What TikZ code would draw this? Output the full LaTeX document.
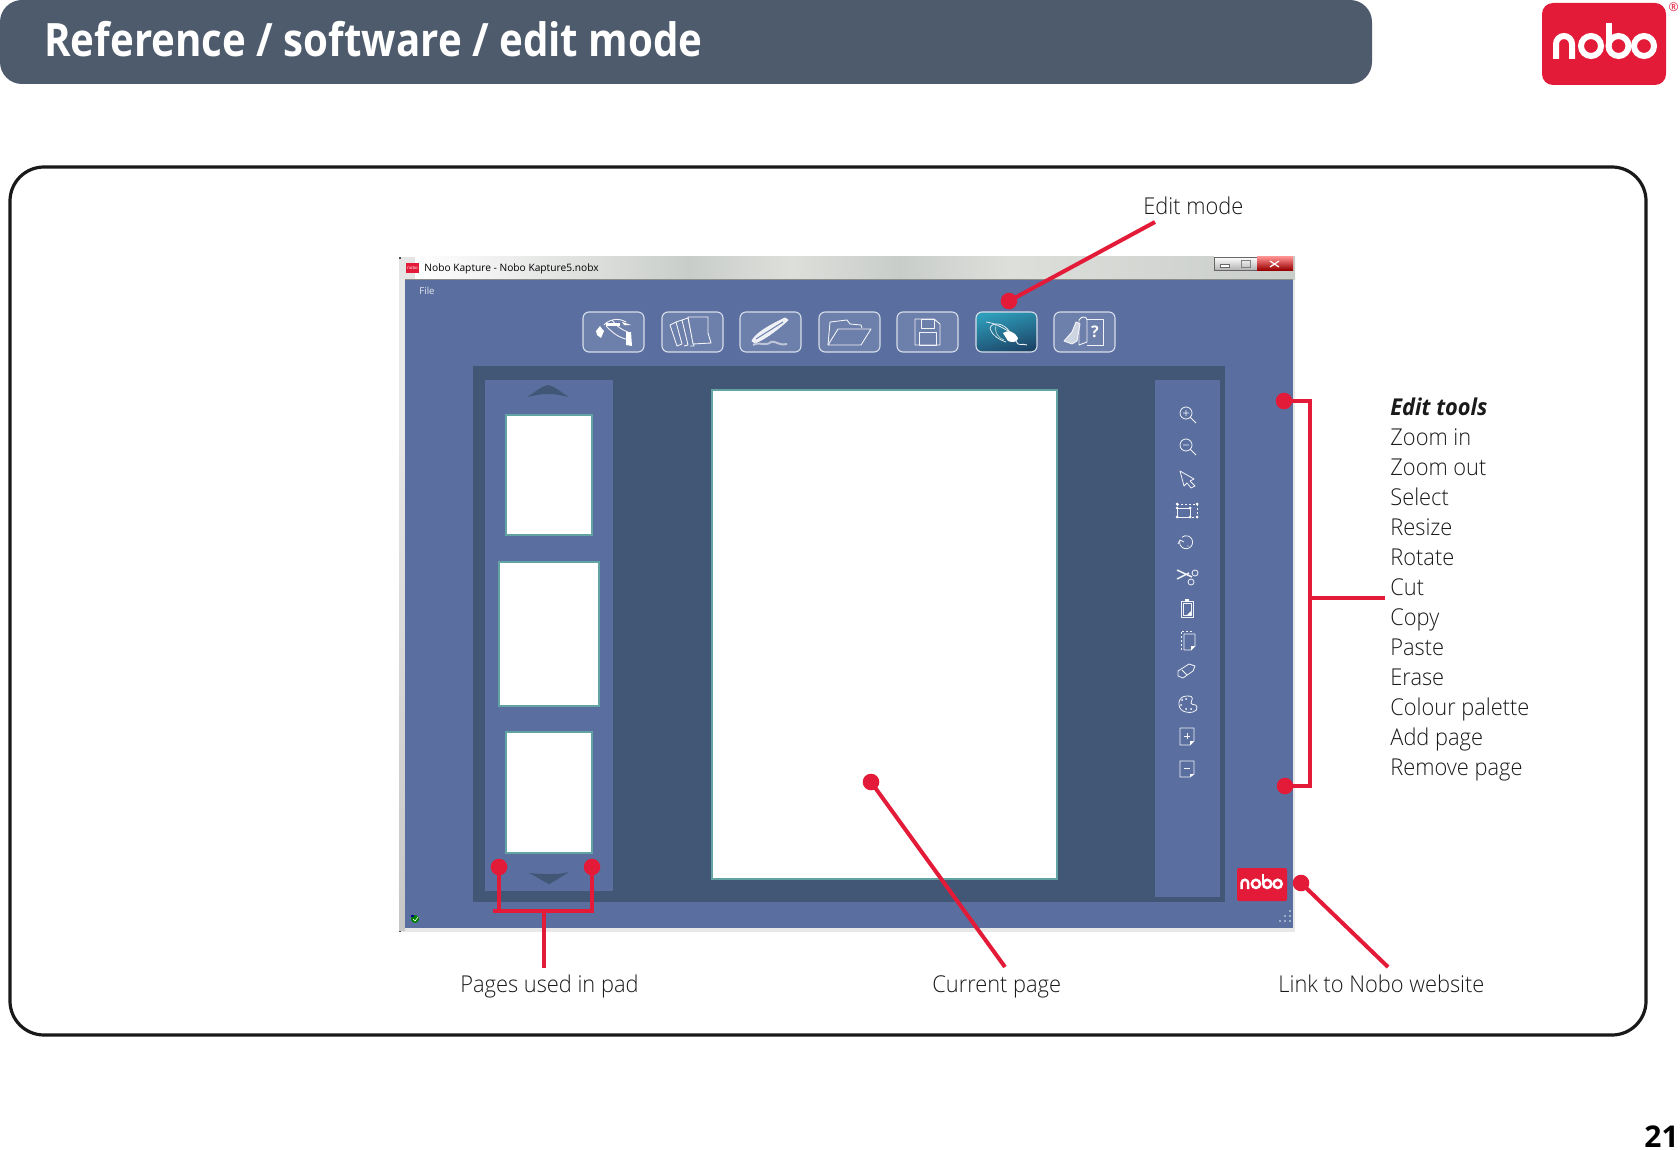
\documentclass[tikz,border=0pt]{standalone}
\usepackage{fontspec}
\setmainfont{Open Sans}
\newfontfamily\lightf{Open Sans Light}[FakeStretch=0.94]
\newfontfamily\boldf{Open Sans}[FakeStretch=0.94]
\newfontfamily\titlef{Open Sans}[FakeStretch=0.875]
\usetikzlibrary{calc}
\definecolor{nred}{HTML}{E31B38}
\definecolor{bar}{HTML}{4E5B6C}
\definecolor{wblue}{HTML}{5A6F9F}
\definecolor{wdark}{HTML}{425776}
\definecolor{teal}{HTML}{62A3A3}
\definecolor{btnf}{HTML}{6D7FAB}
\definecolor{btnl}{HTML}{D8DEEA}
\definecolor{txt}{HTML}{1A1A1A}
\definecolor{tbarA}{HTML}{C9CDC9}
\definecolor{tbarB}{HTML}{DDDFDB}
\definecolor{gbtnA}{HTML}{2E9DBA}
\definecolor{gbtnB}{HTML}{1C4568}
\tikzset{x=0.5pt,y=-0.5pt,
  conn/.style={draw=nred,line width=2pt,line cap=butt,line join=miter},
  dot/.style={circle,fill=nred,inner sep=0pt,minimum size=8.3pt},
  lab/.style={inner sep=0pt,anchor=base west,text=txt,font=\fontsize{11.6}{14}\selectfont},
  btn/.style={draw=btnl,fill=btnf,line width=.55pt,rounded corners=3pt},
  thumb/.style={draw=teal,fill=white,line width=1.2pt},
  ico/.style={draw=white!92!wblue,line width=.45pt,line join=round},
  wl/.style={draw=white!92!wblue,line width=.4pt,line join=round}}
% nobo lettering in header-logo coordinates
\newcommand{\nobomark}{%
  \draw (1556,59) -- (1556,44) arc[start angle=180,end angle=360,radius=8] -- (1572,59);
  \draw (1591,46) circle[radius=10];
  \draw (1618.5,46) circle[radius=10];
  \draw (1608.5,23) -- (1608.5,46);
  \draw (1644,46) circle[radius=10];
}
\begin{document}
\begin{tikzpicture}
\useasboundingbox (0,0) rectangle (1680,1150);
\fill[white] (0,0) rectangle (1680,1150);
% header
\fill[bar,rounded corners=11pt] (0,0) rectangle (1372,84);
\node[inner sep=0pt,anchor=base west,text=white] (title) at (44,57) {\fontsize{23}{28}\selectfont\titlef\bfseries Reference / software / edit mode};
% logo
\fill[nred,rounded corners=5.5pt] (1542,3) rectangle (1666,85);
\begin{scope}[white,line width=3pt]
\nobomark
\end{scope}
\node[inner sep=0pt,text=nred,anchor=north east] (reg) at (1679,2) {\fontsize{6}{6}\selectfont ®};
% big frame
\draw[black!90,line width=1.6pt,rounded corners=17pt] (10,167) rectangle (1646,1035);
% window
\fill[black!9] (399,278) rectangle (1295,932);
\shade[left color=white,right color=tbarA] (415,257) rectangle (690,279);
\fill[black!10] (399,257) rectangle (415,279);
\shade[left color=tbarA,right color=tbarB] (690,257) rectangle (790,279);
\shade[left color=tbarB,right color=tbarA] (790,257) rectangle (900,279);
\shade[left color=tbarA,right color=tbarB] (900,257) rectangle (1010,279);
\shade[left color=tbarB,right color=tbarA] (1010,257) rectangle (1295,279);
\fill[black!70] (399,257) rectangle (401,259);
\fill[black!70] (399,930) rectangle (401,932);
\shade[top color=black!10,bottom color=black!22] (399,440) rectangle (405,930);
\fill[wblue] (405,279) rectangle (1293,928);
\draw[black!45,line width=.3pt] (405,279) -- (1293,279);
\fill[nred] (406,263) rectangle (419,273);
\node[inner sep=0pt,text=white] (wlogo) at (412.5,268) {\fontsize{2.2}{3}\selectfont nobo};
\node[inner sep=0pt,text=black,anchor=base west] (wtitle) at (424,271) {\fontsize{5.1}{6}\selectfont Nobo Kapture - Nobo Kapture5.nobx};
\node[inner sep=0pt,text=white!85!wblue,anchor=base west] (file) at (419,294) {\fontsize{4.8}{6}\selectfont File};
% window buttons
\shade[top color=white,bottom color=black!30,draw=black!60,line width=.3pt] (1214,257) rectangle (1257,270);
\shade[top color=red!45!white,bottom color=red!60!black] (1257,257) rectangle (1293,270);
\draw[white,line width=.6pt] (1270,261) -- (1279,267) (1270,267) -- (1279,261);
\draw[black!60,fill=white,line width=.3pt] (1220,264) rectangle (1229,267);
\draw[black!50,line width=.3pt] (1241,260) rectangle (1250,267);
% panels
\fill[wdark] (473,366) rectangle (1225,902);
\fill[wblue] (485,380) rectangle (613,891);
\fill[wblue] (1155,380) rectangle (1220,897);
% arrows
\fill[wdark] (527,397) .. controls (536,392) and (541,386) .. (548,385) .. controls (555,386) and (560,392) .. (569,397) .. controls (560,395) and (555,394) .. (548,394) .. controls (541,394) and (536,395) .. (527,397) -- cycle;
\fill[wdark] (529,873) .. controls (538,874) and (541,874) .. (549,874) .. controls (557,874) and (560,874) .. (569,872) .. controls (562,876) and (556,881) .. (549,884) .. controls (542,881) and (536,876) .. (529,873) -- cycle;
% pages
\draw[thumb] (506,415) rectangle (592,535);
\draw[thumb] (499,562) rectangle (599,706);
\draw[thumb] (506,732) rectangle (592,853);
\draw[thumb] (712,390) rectangle (1057,879);
% toolbar buttons
\foreach \xa in {583,662,740,819,897,1054}
  \draw[btn] (\xa,312) rectangle +(61,40);
\shade[btn,left color=gbtnA,right color=gbtnB,shading angle=15] (976,312) rectangle (1037,352);
% b1 hand/gesture
\draw[ico] (604,325) .. controls (608,320) and (618,317) .. (626,322);
\draw[ico] (606,326) .. controls (612,332) and (618,338) .. (630,340);
\draw[ico] (612,320) .. controls (616,326) and (622,330) .. (628,332);
\fill[white] (596,331) -- (600,326) -- (602,329) -- (604,331) -- (601,338) -- (597,335) -- cycle;
\fill[white] (606,323) rectangle (620,326);
\fill[white] (622,322) -- (631,325) -- (624,325) -- cycle;
\fill[white] (626,332) -- (631,332) -- (632,346) -- (626,345) -- cycle;
% b2 pages
\draw[ico] (670,325) -- (676,322) -- (682,344) -- (677,346) -- cycle;
\draw[ico] (676,322) -- (682,320) -- (688,345) -- (684,346);
\draw[ico] (682,320) -- (688,318) -- (694,346) -- (690,346);
\draw[ico,fill=btnf] (688,317) -- (708,317) -- (708,333) -- (711,343) -- (693,344) -- cycle;
% b3 pen
\draw[ico,fill=white!90!wblue] (752,341) .. controls (755,334) and (768,326) .. (785,318) -- (788,320) .. controls (775,332) and (763,340) .. (755,343) -- cycle;
\draw[btnf,line width=.5pt] (756,339) -- (783,322);
\draw[white!60!wblue,line width=1pt] (753,345) .. controls (760,341) and (765,347) .. (771,342) .. controls (775,340) and (778,346) .. (787,344);
% b4 folder
\draw[ico] (828,345) -- (830,322) -- (847,320) -- (850,324) -- (861,325) -- (862,328);
\draw[ico] (828,345) -- (838,329) -- (871,329) -- (861,345) -- cycle;
% b5 floppy
\draw[ico] (915,319) -- (934,319) -- (940,324) -- (940,345) -- (915,345) -- cycle;
\draw[ico] (921,319) rectangle (934,328);
\draw[ico] (919,332) rectangle (936,345);
% b6 mouse
\draw[ico,line width=.35pt] (986,322) .. controls (995,323) and (1003,328) .. (1010,332);
\draw[ico,line width=.35pt] (990,328) .. controls (992,322) and (1003,322) .. (1010,332);
\draw[ico,line width=.35pt] (990,328) .. controls (992,336) and (1000,340) .. (1006,342);
\draw[teal!60!white,line width=.4pt] (996,325) .. controls (994,332) and (998,338) .. (1004,340);
\fill[white] (1003,333) .. controls (1008,329) and (1015,332) .. (1018,338) .. controls (1018,342) and (1012,343) .. (1008,341) -- cycle;
\draw[ico] (1016,341) .. controls (1018,347) and (1022,343) .. (1027,345);
% b7 book
\draw[ico] (1079,320) .. controls (1081,316) and (1087,316) .. (1087,320) -- (1087,342) -- (1079,345) -- cycle;
\draw[ico] (1087,319) -- (1103,319) -- (1103,345) -- (1087,345);
\node[inner sep=0pt,text=white] (help) at (1095,332) {\fontsize{8}{9}\selectfont\bfseries ?};
\draw[ico,fill=white!70!wblue] (1064,341) -- (1072,332) -- (1076,322) -- (1080,324) -- (1077,341) -- (1072,344) -- cycle;
% zoom in / out
\draw[wl] (1186,413) circle[radius=6] (1190.5,417.5) -- (1196,423) (1183,413) -- (1189,413) (1186,410) -- (1186,416);
\draw[wl] (1186,445) circle[radius=6] (1190.5,449.5) -- (1196,455) (1183,445) -- (1189,445);
% select
\draw[wl] (1180,471) -- (1194,479) -- (1190,481) -- (1195,486) -- (1191,488) -- (1187,483) -- (1184,486) -- cycle;
% resize
\draw[wl] (1177,508) rectangle (1190,517);
\draw[wl,dash pattern=on 1.2pt off .8pt] (1177,504) rectangle (1197,517);
\foreach \p in {(1177,504),(1197,504),(1177,508),(1190,508),(1177,517),(1190,517),(1197,517)}
  \fill[white] \p circle[radius=1.5];
% rotate
\draw[wl] (1180,540) arc[start angle=200,end angle=-130,radius=6.5];
\draw[wl] (1178,544) -- (1180,540) -- (1184,542);
\fill[white] (1188,546) circle[radius=.7];
% scissors
\draw[wl,line width=.75pt] (1177,570) -- (1192,577) (1177,579) -- (1189,573);
\draw[wl] (1195,573) circle[radius=3] (1191,582) circle[radius=3];
% copy
\draw[wl] (1181,601) rectangle (1193,617);
\draw[wl] (1183,603) rectangle (1191,615);
\fill[white] (1185,599) rectangle (1189,602);
\fill[white] (1187,615) -- (1191,611) -- (1191,615) -- cycle;
% paste
\draw[wl,dash pattern=on 1.2pt off .8pt] (1181,650) -- (1181,631) -- (1191,631) -- (1191,634);
\draw[wl] (1184,634) -- (1195,634) -- (1195,646) -- (1191,650) -- (1184,650) -- cycle;
\fill[white] (1191,650) -- (1195,646) -- (1191,646) -- cycle;
% erase
\draw[wl] (1178,671) -- (1189,664) -- (1195,666) -- (1193,671) -- (1183,678) -- (1178,676) -- cycle (1182,670) -- (1187,675);
% palette
\draw[wl] (1187,696) .. controls (1177,696) and (1177,708) .. (1183,711) .. controls (1190,714) and (1198,712) .. (1197,707) .. controls (1196,703) and (1192,706) .. (1191,703) .. controls (1191,700) and (1196,696) .. (1187,696) -- cycle;
\foreach \p in {(1182,700),(1186,699),(1181,705),(1186,709),(1191,709)}
  \fill[white] \p circle[radius=1];
% add / remove
\draw[wl] (1180,728) -- (1194,728) -- (1194,741) -- (1190,745) -- (1180,745) -- cycle;
\fill[white] (1190,745) -- (1194,741) -- (1190,741) -- cycle;
\draw[wl] (1184,736) -- (1190,736) (1187,733) -- (1187,739);
\draw[wl] (1180,761) -- (1194,761) -- (1194,774) -- (1190,777) -- (1180,777) -- cycle;
\fill[white] (1190,777) -- (1194,774) -- (1190,774) -- cycle;
\draw[wl] (1184,768) -- (1190,768);
% small logo
\fill[nred,rounded corners=1pt] (1237,868) rectangle (1287,901);
\begin{scope}[shift={(603.6,865)},x=0.205pt,y=-0.205pt,white,line width=1.25pt]
\nobomark
\end{scope}
% status icon and grip
\fill[green!50!black] (415,919) circle[radius=4];
\fill[blue!60!black] (411,915) rectangle (414,917);
\draw[white,line width=.3pt] (413,919) -- (415,921) -- (418,917);
\foreach \p in {(1290,921),(1285,921),(1280,921),(1290,916),(1285,916),(1290,911)}
  \fill[white!85!wblue] \p circle[radius=.8];
% labels
\node[lab] (edit) at (1143,215) {\lightf Edit mode};
\node[lab] (pages) at (460,992) {\lightf Pages used in pad};
\node[lab] (current) at (932,992) {\lightf Current page};
\node[lab] (link) at (1278,992) {\lightf Link to Nobo website};
\node[lab] (t0) at (1390,415) {\boldf\bfseries\itshape Edit tools};
\node[lab] (t1) at (1390,445) {\lightf Zoom in};
\node[lab] (t2) at (1390,475) {\lightf Zoom out};
\node[lab] (t3) at (1390,505) {\lightf Select};
\node[lab] (t4) at (1390,535) {\lightf Resize};
\node[lab] (t5) at (1390,565) {\lightf Rotate};
\node[lab] (t6) at (1390,595) {\lightf Cut};
\node[lab] (t7) at (1390,625) {\lightf Copy};
\node[lab] (t8) at (1390,655) {\lightf Paste};
\node[lab] (t9) at (1390,685) {\lightf Erase};
\node[lab] (t10) at (1390,715) {\lightf Colour palette};
\node[lab] (t11) at (1390,745) {\lightf Add page};
\node[lab] (t12) at (1390,775) {\lightf Remove page};
\node[inner sep=0pt,anchor=base east,text=black] (pnum) at (1679,1147) {\fontsize{15}{18}\selectfont\bfseries 21};
% connectors
\node[dot] (d1) at (1009,301) {};
\coordinate (e1) at (1155,222);
\draw[conn] (d1.center) -- (e1);
\node[dot] (d2) at (1284,401) {};
\node[dot] (d3) at (1285,786) {};
\coordinate (k1) at (1310,401);
\coordinate (k2) at (1310,786);
\coordinate (k3) at (1310,598);
\coordinate (k4) at (1385,598);
\draw[conn] (d2.center) -- (k1) -- (k2) -- (d3.center);
\draw[conn] (k3) -- (k4);
\node[dot] (d4) at (1301,883) {};
\coordinate (e4) at (1388,967);
\draw[conn] (d4.center) -- (e4);
\node[dot] (d5) at (871,782) {};
\coordinate (e5) at (1005,967);
\draw[conn] (d5.center) -- (e5);
\node[dot] (d6) at (499,867) {};
\node[dot] (d7) at (592,867) {};
\coordinate (b1) at (499,911);
\coordinate (b2) at (592,911);
\coordinate (b0) at (493,911);
\coordinate (b3) at (544,911);
\coordinate (e6) at (544,968);
\draw[conn] (d6.center) -- (b1);
\draw[conn] (b0) -- (b2) -- (d7.center);
\draw[conn] (b3) -- (e6);
\end{tikzpicture}
\end{document}
